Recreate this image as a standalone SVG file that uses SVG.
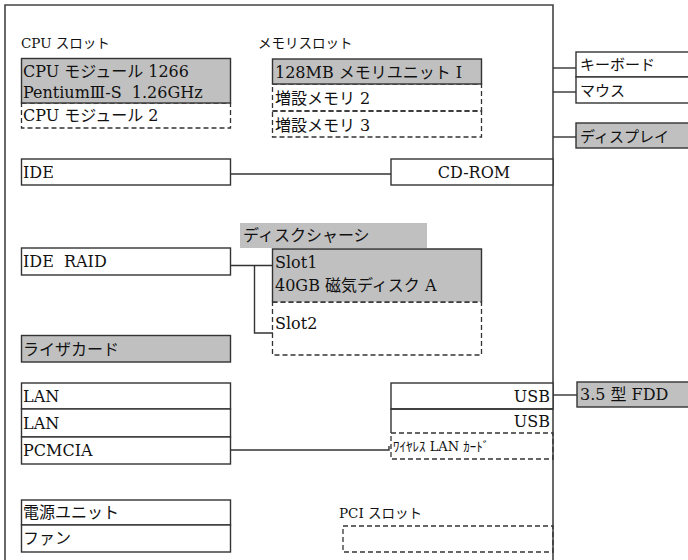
<svg xmlns="http://www.w3.org/2000/svg" width="688" height="560" viewBox="0 0 688 560">
<style>
text{font-family:"DejaVu Serif","Noto Sans CJK JP",serif;font-size:16px;fill:#111;white-space:pre}
.lbl{font-size:13.5px}
.jp{font-family:"Noto Sans CJK JP",sans-serif;font-size:15px}
.s{fill:#fff;stroke:#333;stroke-width:1.4}
.g{fill:#c0c0c0;stroke:#333;stroke-width:1.4}
.d{fill:none;stroke:#333;stroke-width:1.3;stroke-dasharray:5,3}
.c{fill:none;stroke:#333;stroke-width:1.4}
.f{fill:none;stroke:#444;stroke-width:1.6}
</style>
<rect width="688" height="560" fill="#fff"/>
<path class="f" d="M5,560 V5 H553 V560"/>
<g id="connectors">
<path class="c" d="M553,68 H576"/>
<path class="c" d="M553,92 H576"/>
<path class="c" d="M553,137 H576"/>
<path class="c" d="M231,174 H391"/>
<path class="c" d="M231,265.5 H273"/>
<path class="c" d="M254.5,265.5 V333 H273"/>
<path class="c" d="M231,450 H389 V446"/>
<path class="c" d="M553,395 H577"/>
</g>
<g id="cpu-slot">
<text class="lbl" x="21" y="48">CPU スロット</text>
<rect class="d" x="21.5" y="103" width="209" height="25"/>
<rect class="g" x="21.5" y="58.5" width="209" height="44.5"/>
<text x="23" y="77">CPU モジュール 1266</text>
<text x="23" y="98">PentiumⅢ-S  1.26GHz</text>
<text x="23" y="121">CPU モジュール 2</text>
</g>
<g id="memory-slot">
<text class="lbl" x="258" y="48">メモリスロット</text>
<rect class="d" x="272.5" y="84" width="209" height="27"/>
<rect class="d" x="272.5" y="111" width="209" height="26"/>
<rect class="g" x="272.5" y="59" width="209" height="25"/>
<text x="275" y="78">128MB メモリユニット I</text>
<text x="275" y="104">増設メモリ 2</text>
<text x="275" y="131">増設メモリ 3</text>
</g>
<g id="keyboard-mouse">
<rect class="s" x="576" y="52" width="120" height="25"/>
<rect class="s" x="576" y="77" width="120" height="26"/>
<text class="jp" x="580" y="70">キーボード</text>
<text class="jp" x="580" y="96">マウス</text>
</g>
<g id="display">
<rect class="g" x="576" y="123" width="120" height="25"/>
<text class="jp" x="580" y="142">ディスプレイ</text>
</g>
<g id="ide">
<rect class="s" x="21.5" y="159" width="209" height="26"/>
<text x="23" y="178">IDE</text>
</g>
<g id="cdrom">
<rect class="s" x="391" y="159" width="162" height="26"/>
<text x="474" y="178" text-anchor="middle">CD-ROM</text>
</g>
<g id="disk-chassis">
<rect x="240" y="223" width="187" height="25" fill="#c0c0c0"/>
<text x="243" y="241">ディスクシャーシ</text>
<rect class="d" x="272.5" y="302" width="209" height="53"/>
<rect x="272.5" y="249" width="209" height="53" fill="#c0c0c0"/>
<path class="c" d="M272.5,302 V249 H481.5 V302"/>
<path class="d" d="M272.5,302 H481.5"/>
<text x="275" y="268">Slot1</text>
<text x="275" y="291">40GB 磁気ディスク A</text>
<text x="275" y="329">Slot2</text>
</g>
<g id="ide-raid">
<rect class="s" x="21.5" y="248" width="209" height="27"/>
<text x="23" y="267">IDE  RAID</text>
</g>
<g id="riser-card">
<rect class="g" x="21.5" y="335.5" width="209" height="26.5"/>
<text x="23" y="355">ライザカード</text>
</g>
<g id="lan-pcmcia">
<rect class="s" x="21.5" y="383" width="209" height="26"/>
<rect class="s" x="21.5" y="409" width="209" height="28"/>
<rect class="s" x="21.5" y="437" width="209" height="27"/>
<text x="23" y="402">LAN</text>
<text x="23" y="429">LAN</text>
<text x="23" y="456">PCMCIA</text>
</g>
<g id="usb">
<rect class="d" x="391" y="433" width="162" height="26"/>
<rect class="s" x="391" y="383" width="162" height="26"/>
<path class="c" d="M391,433 V409 H553"/>
<text x="550" y="402" text-anchor="end">USB</text>
<text x="550" y="427" text-anchor="end">USB</text>
<text x="393" y="451" style="font-size:13px">ﾜｲﾔﾚｽ LAN ｶｰﾄﾞ</text>
</g>
<g id="fdd">
<rect class="g" x="577" y="382" width="120" height="25"/>
<text x="580" y="400">3.5 型 FDD</text>
</g>
<g id="power">
<rect class="s" x="21.5" y="500" width="209" height="25"/>
<rect class="s" x="21.5" y="525" width="209" height="27"/>
<text x="23" y="518">電源ユニット</text>
<text x="23" y="544">ファン</text>
</g>
<g id="pci-slot">
<text class="lbl" x="339" y="518">PCI スロット</text>
<rect class="d" x="343" y="526" width="210" height="26"/>
</g>
</svg>
